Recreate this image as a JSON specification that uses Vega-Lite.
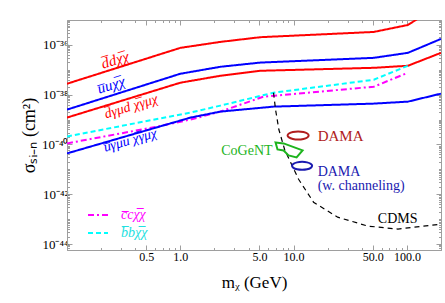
{
  "$schema": "https://vega.github.io/schema/vega-lite/v6.json",
  "width": 374,
  "height": 230,
  "autosize": "none",
  "padding": {"left": 67, "top": 20, "right": 4, "bottom": 53},
  "background": "white",
  "config": {
    "font": "Liberation Serif",
    "view": {"stroke": "#9e9e9e", "strokeWidth": 1},
    "axis": {
      "grid": false,
      "domainColor": "#9e9e9e",
      "tickColor": "#9e9e9e",
      "labelColor": "#000000",
      "labelFontSize": 12,
      "labelFont": "Liberation Serif",
      "titleFont": "Liberation Serif",
      "titleFontWeight": "normal",
      "titleFontSize": 15,
      "titleColor": "#000000",
      "labelFlush": false,
      "labelOverlap": false,
      "labelBound": false
    }
  },
  "datasets": {
    "curves": [
      {"s": "dd", "x": 0.1, "y": 2.75e-38},
      {"s": "dd", "x": 1, "y": 7.59e-37},
      {"s": "dd", "x": 2.26, "y": 1.32e-36},
      {"s": "dd", "x": 5.1, "y": 2.04e-36},
      {"s": "dd", "x": 51, "y": 3.31e-36},
      {"s": "dd", "x": 102, "y": 6.31e-36},
      {"s": "dd", "x": 135, "y": 1.41e-35},
      {"s": "uu", "x": 0.1, "y": 2.51e-39},
      {"s": "uu", "x": 1, "y": 6.92e-38},
      {"s": "uu", "x": 2.26, "y": 1.32e-37},
      {"s": "uu", "x": 5.1, "y": 1.95e-37},
      {"s": "uu", "x": 51, "y": 3.02e-37},
      {"s": "uu", "x": 102, "y": 4.79e-37},
      {"s": "uu", "x": 200, "y": 1.74e-36},
      {"s": "dgd", "x": 0.1, "y": 1.2e-39},
      {"s": "dgd", "x": 1, "y": 3.02e-38},
      {"s": "dgd", "x": 2.26, "y": 5.75e-38},
      {"s": "dgd", "x": 5.1, "y": 9.12e-38},
      {"s": "dgd", "x": 51, "y": 1.2e-37},
      {"s": "dgd", "x": 102, "y": 1.45e-37},
      {"s": "dgd", "x": 200, "y": 4.79e-37},
      {"s": "bb", "x": 0.1, "y": 2.09e-40},
      {"s": "bb", "x": 1.23, "y": 1.91e-39},
      {"s": "bb", "x": 2.26, "y": 3.63e-39},
      {"s": "bb", "x": 6.65, "y": 1.2e-38},
      {"s": "bb", "x": 51, "y": 3.98e-38},
      {"s": "bb", "x": 102, "y": 1.45e-37},
      {"s": "cc", "x": 0.1, "y": 1.1e-40},
      {"s": "cc", "x": 0.63, "y": 5.25e-40},
      {"s": "cc", "x": 1.23, "y": 1e-39},
      {"s": "cc", "x": 2.26, "y": 2.09e-39},
      {"s": "cc", "x": 5.43, "y": 8.32e-39},
      {"s": "cc", "x": 51, "y": 2.09e-38},
      {"s": "cc", "x": 102, "y": 7.59e-38},
      {"s": "ugu", "x": 0.1, "y": 4.37e-41},
      {"s": "ugu", "x": 1.23, "y": 1.2e-39},
      {"s": "ugu", "x": 2.26, "y": 2.09e-39},
      {"s": "ugu", "x": 6.65, "y": 3.31e-39},
      {"s": "ugu", "x": 51, "y": 4.37e-39},
      {"s": "ugu", "x": 102, "y": 5.25e-39},
      {"s": "ugu", "x": 200, "y": 1.1e-38}
    ],
    "cdms": [
      {"x": 6.65, "y": 1.2e-38},
      {"x": 6.93, "y": 2.51e-39},
      {"x": 7.41, "y": 3.98e-40},
      {"x": 8.33, "y": 6.31e-41},
      {"x": 9.4, "y": 1.91e-41},
      {"x": 11.07, "y": 3.98e-42},
      {"x": 15.0, "y": 4.79e-43},
      {"x": 24.5, "y": 1.2e-43},
      {"x": 45.2, "y": 5.25e-44},
      {"x": 83.2, "y": 3.98e-44},
      {"x": 200, "y": 6.31e-44}
    ],
    "regions": [
      {"g": "dama", "i": 0, "x": 13.58, "y": 2.29e-40},
      {"g": "dama", "i": 1, "x": 13.21, "y": 2.75e-40},
      {"g": "dama", "i": 2, "x": 12.21, "y": 3.16e-40},
      {"g": "dama", "i": 3, "x": 10.96, "y": 3.31e-40},
      {"g": "dama", "i": 4, "x": 9.85, "y": 3.16e-40},
      {"g": "dama", "i": 5, "x": 9.1, "y": 2.75e-40},
      {"g": "dama", "i": 6, "x": 8.85, "y": 2.29e-40},
      {"g": "dama", "i": 7, "x": 9.1, "y": 1.91e-40},
      {"g": "dama", "i": 8, "x": 9.85, "y": 1.66e-40},
      {"g": "dama", "i": 9, "x": 10.96, "y": 1.58e-40},
      {"g": "dama", "i": 10, "x": 12.21, "y": 1.66e-40},
      {"g": "dama", "i": 11, "x": 13.21, "y": 1.91e-40},
      {"g": "damac", "i": 0, "x": 14.57, "y": 1.38e-41},
      {"g": "damac", "i": 1, "x": 14.18, "y": 1.66e-41},
      {"g": "damac", "i": 2, "x": 13.16, "y": 1.91e-41},
      {"g": "damac", "i": 3, "x": 11.89, "y": 2.0e-41},
      {"g": "damac", "i": 4, "x": 10.74, "y": 1.91e-41},
      {"g": "damac", "i": 5, "x": 9.96, "y": 1.66e-41},
      {"g": "damac", "i": 6, "x": 9.69, "y": 1.38e-41},
      {"g": "damac", "i": 7, "x": 9.96, "y": 1.15e-41},
      {"g": "damac", "i": 8, "x": 10.74, "y": 1.0e-41},
      {"g": "damac", "i": 9, "x": 11.89, "y": 9.55e-42},
      {"g": "damac", "i": 10, "x": 13.16, "y": 1.0e-41},
      {"g": "damac", "i": 11, "x": 14.18, "y": 1.15e-41},
      {"g": "cogent", "i": 0, "x": 6.93, "y": 1.2e-40},
      {"g": "cogent", "i": 1, "x": 8.16, "y": 1.1e-40},
      {"g": "cogent", "i": 2, "x": 12.0, "y": 5.75e-41},
      {"g": "cogent", "i": 3, "x": 10.63, "y": 3.02e-41},
      {"g": "cogent", "i": 4, "x": 9.03, "y": 3.63e-41},
      {"g": "cogent", "i": 5, "x": 8.16, "y": 5.75e-41},
      {"g": "cogent", "i": 6, "x": 7.21, "y": 6.31e-41}
    ]
  },
  "resolve": {"axis": {"x": "independent", "y": "independent"}},
  "layer": [
    {
      "data": {"name": "curves"},
      "mark": {"type": "line", "strokeWidth": 2, "clip": true},
      "encoding": {
        "x": {
          "field": "x", "type": "quantitative",
          "scale": {"type": "log", "domain": [0.1, 200], "nice": false},
          "axis": {
            "orient": "bottom",
            "values": [0.2, 0.3, 0.4, 0.5, 0.6, 0.7, 0.8, 0.9, 1, 2, 3, 4, 5, 6, 7, 8, 9, 10, 20, 30, 40, 50, 60, 70, 80, 90, 100],
            "labelExpr": "indexof([0.5, 1, 5, 10, 50, 100], datum.value) >= 0 ? format(datum.value, '.1f') : ''",
            "tickSize": {"condition": {"test": "indexof([0.5, 1, 5, 10, 50, 100], datum.value) >= 0", "value": -5}, "value": -2.5},
            "labelPadding": 6,
            "title": "mᵪ (GeV)",
            "titleFontSize": 17,
            "titlePadding": 10
          }
        },
        "y": {
          "field": "y", "type": "quantitative",
          "scale": {"type": "log", "domain": [5.75e-45, 1e-35], "nice": false},
          "axis": {
            "orient": "left",
            "values": [6e-45, 7e-45, 8e-45, 9e-45,
              1e-44, 2e-44, 3e-44, 4e-44, 5e-44, 6e-44, 7e-44, 8e-44, 9e-44,
              1e-43, 2e-43, 3e-43, 4e-43, 5e-43, 6e-43, 7e-43, 8e-43, 9e-43,
              1e-42, 2e-42, 3e-42, 4e-42, 5e-42, 6e-42, 7e-42, 8e-42, 9e-42,
              1e-41, 2e-41, 3e-41, 4e-41, 5e-41, 6e-41, 7e-41, 8e-41, 9e-41,
              1e-40, 2e-40, 3e-40, 4e-40, 5e-40, 6e-40, 7e-40, 8e-40, 9e-40,
              1e-39, 2e-39, 3e-39, 4e-39, 5e-39, 6e-39, 7e-39, 8e-39, 9e-39,
              1e-38, 2e-38, 3e-38, 4e-38, 5e-38, 6e-38, 7e-38, 8e-38, 9e-38,
              1e-37, 2e-37, 3e-37, 4e-37, 5e-37, 6e-37, 7e-37, 8e-37, 9e-37,
              1e-36, 2e-36, 3e-36, 4e-36, 5e-36, 6e-36, 7e-36, 8e-36, 9e-36],
            "labelExpr": "abs(log(datum.value)/LN10 - round(log(datum.value)/LN10)) > 0.01 ? '' : round(log(datum.value)/LN10) == -36 ? '10⁻³⁶' : round(log(datum.value)/LN10) == -38 ? '10⁻³⁸' : round(log(datum.value)/LN10) == -40 ? '10⁻⁴⁰' : round(log(datum.value)/LN10) == -42 ? '10⁻⁴²' : round(log(datum.value)/LN10) == -44 ? '10⁻⁴⁴' : ''",
            "labelFontSize": 13,
            "tickSize": {"condition": {"test": "abs(log(datum.value)/LN10 - round(log(datum.value)/LN10)) < 0.01 && round(log(datum.value)/LN10) % 2 == 0", "value": -5}, "value": -2.5},
            "labelPadding": 4,
            "title": "σₛᵢ₋ₙ (cm²)",
            "titleFontSize": 18,
            "titlePadding": 3
          }
        },
        "color": {
          "field": "s", "type": "nominal",
          "scale": {"domain": ["dd", "uu", "dgd", "ugu", "cc", "bb"], "range": ["#ff0000", "#0000ff", "#ff0000", "#0000ff", "#ff00ff", "#00ffff"]},
          "legend": {
            "values": ["cc", "bb"], "orient": "none", "legendX": 20, "legendY": 184, "title": null,
            "symbolType": "stroke", "symbolSize": 400, "symbolStrokeWidth": 2,
            "labelFontSize": 14, "labelFont": "Liberation Serif", "labelFontStyle": "italic", "labelOffset": 12,
            "rowPadding": -2, "padding": 0,
            "labelExpr": "datum.label == 'cc' ? 'c̅cχ̅χ' : 'b̅bχ̅χ'",
            "encode": {"labels": {"update": {"fill": {"signal": "datum.value == 'cc' ? '#ff00ff' : '#22e0e0'"}}}}
          }
        },
        "strokeDash": {
          "field": "s", "type": "nominal",
          "scale": {"domain": ["dd", "uu", "dgd", "ugu", "cc", "bb"], "range": [[1, 0], [1, 0], [1, 0], [1, 0], [6, 3, 2, 3], [5, 3]]},
          "legend": {
            "values": ["cc", "bb"], "orient": "none", "legendX": 20, "legendY": 184, "title": null,
            "symbolType": "stroke", "symbolSize": 400, "symbolStrokeWidth": 2,
            "labelFontSize": 14, "labelFont": "Liberation Serif", "labelFontStyle": "italic", "labelOffset": 12,
            "rowPadding": -2, "padding": 0,
            "labelExpr": "datum.label == 'cc' ? 'c̅cχ̅χ' : 'b̅bχ̅χ'",
            "encode": {"labels": {"update": {"fill": {"signal": "datum.value == 'cc' ? '#ff00ff' : '#22e0e0'"}}}}
          }
        }
      }
    },
    {
      "data": {"name": "curves"},
      "mark": {"type": "point", "opacity": 0},
      "encoding": {
        "x": {
          "field": "x", "type": "quantitative",
          "scale": {"type": "log", "domain": [0.1, 200], "nice": false},
          "axis": {
            "orient": "top", "labels": false, "title": null,
            "values": [0.2, 0.3, 0.4, 0.5, 0.6, 0.7, 0.8, 0.9, 1, 2, 3, 4, 5, 6, 7, 8, 9, 10, 20, 30, 40, 50, 60, 70, 80, 90, 100],
            "tickSize": {"condition": {"test": "indexof([0.5, 1, 5, 10, 50, 100], datum.value) >= 0", "value": -5}, "value": -2.5}
          }
        },
        "y": {
          "field": "y", "type": "quantitative",
          "scale": {"type": "log", "domain": [5.75e-45, 1e-35], "nice": false},
          "axis": {
            "orient": "right", "labels": false, "title": null,
            "values": [6e-45, 7e-45, 8e-45, 9e-45,
              1e-44, 2e-44, 3e-44, 4e-44, 5e-44, 6e-44, 7e-44, 8e-44, 9e-44,
              1e-43, 2e-43, 3e-43, 4e-43, 5e-43, 6e-43, 7e-43, 8e-43, 9e-43,
              1e-42, 2e-42, 3e-42, 4e-42, 5e-42, 6e-42, 7e-42, 8e-42, 9e-42,
              1e-41, 2e-41, 3e-41, 4e-41, 5e-41, 6e-41, 7e-41, 8e-41, 9e-41,
              1e-40, 2e-40, 3e-40, 4e-40, 5e-40, 6e-40, 7e-40, 8e-40, 9e-40,
              1e-39, 2e-39, 3e-39, 4e-39, 5e-39, 6e-39, 7e-39, 8e-39, 9e-39,
              1e-38, 2e-38, 3e-38, 4e-38, 5e-38, 6e-38, 7e-38, 8e-38, 9e-38,
              1e-37, 2e-37, 3e-37, 4e-37, 5e-37, 6e-37, 7e-37, 8e-37, 9e-37,
              1e-36, 2e-36, 3e-36, 4e-36, 5e-36, 6e-36, 7e-36, 8e-36, 9e-36],
            "tickSize": {"condition": {"test": "abs(log(datum.value)/LN10 - round(log(datum.value)/LN10)) < 0.01 && round(log(datum.value)/LN10) % 2 == 0", "value": -5}, "value": -2.5}
          }
        }
      }
    },
    {
      "data": {"name": "cdms"},
      "mark": {"type": "line", "color": "#000000", "strokeWidth": 1.2, "strokeDash": [5, 4], "interpolate": "linear", "clip": true},
      "encoding": {
        "x": {"field": "x", "type": "quantitative", "scale": {"type": "log", "domain": [0.1, 200], "nice": false}, "axis": null},
        "y": {"field": "y", "type": "quantitative", "scale": {"type": "log", "domain": [5.75e-45, 1e-35], "nice": false}, "axis": null}
      }
    },
    {
      "data": {"name": "regions"},
      "transform": [{"filter": "datum.g == 'dama'"}],
      "mark": {"type": "line", "color": "#b01c1c", "strokeWidth": 2, "interpolate": "cardinal-closed"},
      "encoding": {
        "x": {"field": "x", "type": "quantitative", "scale": {"type": "log", "domain": [0.1, 200], "nice": false}, "axis": null},
        "y": {"field": "y", "type": "quantitative", "scale": {"type": "log", "domain": [5.75e-45, 1e-35], "nice": false}, "axis": null},
        "order": {"field": "i", "type": "quantitative"}
      }
    },
    {
      "data": {"name": "regions"},
      "transform": [{"filter": "datum.g == 'damac'"}],
      "mark": {"type": "line", "color": "#1a1ab0", "strokeWidth": 2, "interpolate": "cardinal-closed"},
      "encoding": {
        "x": {"field": "x", "type": "quantitative", "scale": {"type": "log", "domain": [0.1, 200], "nice": false}, "axis": null},
        "y": {"field": "y", "type": "quantitative", "scale": {"type": "log", "domain": [5.75e-45, 1e-35], "nice": false}, "axis": null},
        "order": {"field": "i", "type": "quantitative"}
      }
    },
    {
      "data": {"name": "regions"},
      "transform": [{"filter": "datum.g == 'cogent'"}],
      "mark": {"type": "line", "color": "#1db41d", "strokeWidth": 2, "interpolate": "linear-closed"},
      "encoding": {
        "x": {"field": "x", "type": "quantitative", "scale": {"type": "log", "domain": [0.1, 200], "nice": false}, "axis": null},
        "y": {"field": "y", "type": "quantitative", "scale": {"type": "log", "domain": [5.75e-45, 1e-35], "nice": false}, "axis": null},
        "order": {"field": "i", "type": "quantitative"}
      }
    },
    {
      "data": {"values": [{"x": 0.266, "y": 2.51e-37, "t": "d̅dχ̅χ"}]},
      "mark": {"type": "text", "color": "#ff0000", "fontSize": 15, "fontStyle": "italic", "angle": -17, "align": "center", "baseline": "middle"},
      "encoding": {
        "x": {"field": "x", "type": "quantitative", "scale": {"type": "log", "domain": [0.1, 200], "nice": false}, "axis": null},
        "y": {"field": "y", "type": "quantitative", "scale": {"type": "log", "domain": [5.75e-45, 1e-35], "nice": false}, "axis": null},
        "text": {"field": "t"}
      }
    },
    {
      "data": {"values": [{"x": 0.245, "y": 2.51e-38, "t": "u̅uχ̅χ"}]},
      "mark": {"type": "text", "color": "#0000ff", "fontSize": 15, "fontStyle": "italic", "angle": -17, "align": "center", "baseline": "middle"},
      "encoding": {
        "x": {"field": "x", "type": "quantitative", "scale": {"type": "log", "domain": [0.1, 200], "nice": false}, "axis": null},
        "y": {"field": "y", "type": "quantitative", "scale": {"type": "log", "domain": [5.75e-45, 1e-35], "nice": false}, "axis": null},
        "text": {"field": "t"}
      }
    },
    {
      "data": {"values": [{"x": 0.368, "y": 3.31e-39, "t": "d̅γμd χ̅γμχ"}]},
      "mark": {"type": "text", "color": "#ff0000", "fontSize": 14, "fontStyle": "italic", "angle": -17, "align": "center", "baseline": "middle"},
      "encoding": {
        "x": {"field": "x", "type": "quantitative", "scale": {"type": "log", "domain": [0.1, 200], "nice": false}, "axis": null},
        "y": {"field": "y", "type": "quantitative", "scale": {"type": "log", "domain": [5.75e-45, 1e-35], "nice": false}, "axis": null},
        "text": {"field": "t"}
      }
    },
    {
      "data": {"values": [{"x": 0.361, "y": 1.45e-40, "t": "u̅γμu χ̅γμχ"}]},
      "mark": {"type": "text", "color": "#0000ff", "fontSize": 14, "fontStyle": "italic", "angle": -16, "align": "center", "baseline": "middle"},
      "encoding": {
        "x": {"field": "x", "type": "quantitative", "scale": {"type": "log", "domain": [0.1, 200], "nice": false}, "axis": null},
        "y": {"field": "y", "type": "quantitative", "scale": {"type": "log", "domain": [5.75e-45, 1e-35], "nice": false}, "axis": null},
        "text": {"field": "t"}
      }
    },
    {
      "data": {"values": [{"x": 16.3, "y": 2.09e-40, "t": "DAMA"}]},
      "mark": {"type": "text", "color": "#b01c1c", "fontSize": 15, "align": "left", "baseline": "middle"},
      "encoding": {
        "x": {"field": "x", "type": "quantitative", "scale": {"type": "log", "domain": [0.1, 200], "nice": false}, "axis": null},
        "y": {"field": "y", "type": "quantitative", "scale": {"type": "log", "domain": [5.75e-45, 1e-35], "nice": false}, "axis": null},
        "text": {"field": "t"}
      }
    },
    {
      "data": {"values": [{"x": 16.3, "y": 7.59e-42, "t": "DAMA"}, {"x": 16.3, "y": 2.09e-42, "t": "(w. channeling)"}]},
      "mark": {"type": "text", "color": "#1a1ab0", "fontSize": 14, "align": "left", "baseline": "middle"},
      "encoding": {
        "x": {"field": "x", "type": "quantitative", "scale": {"type": "log", "domain": [0.1, 200], "nice": false}, "axis": null},
        "y": {"field": "y", "type": "quantitative", "scale": {"type": "log", "domain": [5.75e-45, 1e-35], "nice": false}, "axis": null},
        "text": {"field": "t"}
      }
    },
    {
      "data": {"values": [{"x": 55.4, "y": 1e-43, "t": "CDMS"}]},
      "mark": {"type": "text", "color": "#000000", "fontSize": 14, "align": "left", "baseline": "middle"},
      "encoding": {
        "x": {"field": "x", "type": "quantitative", "scale": {"type": "log", "domain": [0.1, 200], "nice": false}, "axis": null},
        "y": {"field": "y", "type": "quantitative", "scale": {"type": "log", "domain": [5.75e-45, 1e-35], "nice": false}, "axis": null},
        "text": {"field": "t"}
      }
    },
    {
      "data": {"values": [{"x": 6.52, "y": 5.25e-41, "t": "CoGeNT"}]},
      "mark": {"type": "text", "color": "#1db41d", "fontSize": 14, "align": "right", "baseline": "middle"},
      "encoding": {
        "x": {"field": "x", "type": "quantitative", "scale": {"type": "log", "domain": [0.1, 200], "nice": false}, "axis": null},
        "y": {"field": "y", "type": "quantitative", "scale": {"type": "log", "domain": [5.75e-45, 1e-35], "nice": false}, "axis": null},
        "text": {"field": "t"}
      }
    }
  ]
}
